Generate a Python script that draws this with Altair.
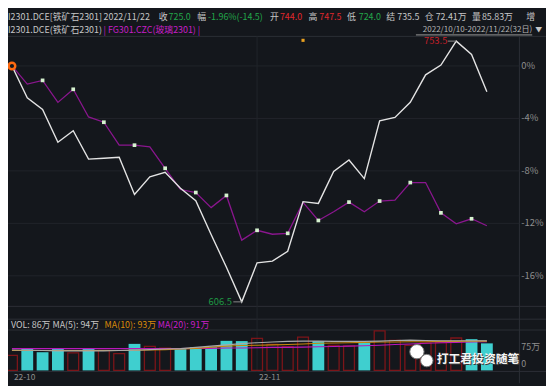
import altair as alt
import pandas as pd

# ---------------- data ----------------
dates = ["2022-10-10", "2022-10-11", "2022-10-12", "2022-10-13", "2022-10-14",
         "2022-10-17", "2022-10-18", "2022-10-19", "2022-10-20", "2022-10-21",
         "2022-10-24", "2022-10-25", "2022-10-26", "2022-10-27", "2022-10-28",
         "2022-10-31", "2022-11-01", "2022-11-02", "2022-11-03", "2022-11-04",
         "2022-11-07", "2022-11-08", "2022-11-09", "2022-11-10", "2022-11-11",
         "2022-11-14", "2022-11-15", "2022-11-16", "2022-11-17", "2022-11-18",
         "2022-11-21", "2022-11-22"]

# I2301 iron ore closes
iron_close = [739.5, 721.5, 715.0, 696.5, 703.0, 687.0, 687.5, 688.0, 667.0, 677.0,
              679.5, 670.5, 663.5, 644.5, 626.0, 606.5, 628.5, 629.5, 635.0, 663.0,
              662.0, 680.0, 686.5, 676.0, 708.5, 710.5, 719.0, 734.5, 740.0, 753.5,
              746.0, 725.0]

# FG301 glass, % change since 2022/10/10
glass_pct = [0.0, -1.38, -1.10, -2.78, -1.78, -3.89, -4.29, -6.04, -6.04, -6.17,
             -7.80, -9.42, -9.65, -10.80, -9.87, -13.28, -12.53, -12.83, -12.76, -10.40,
             -11.78, -11.11, -10.38, -11.11, -10.30, -10.23, -8.89, -8.89, -11.20, -12.03,
             -11.65, -12.18]

# volume (万手) and candle direction
volume_wan = [47.8, 69.1, 57.7, 69.1, 55.8, 69.1, 63.8, 53.1, 84.2, 76.3,
              70.9, 69.1, 73.6, 73.6, 93.8, 93.0, 101.8, 82.4, 75.2, 105.5,
              93.0, 79.7, 77.9, 88.5, 125.7, 94.9, 79.7, 86.9, 88.5, 102.8,
              99.1, 85.8]
bar_dir = ["up", "down", "down", "down", "up", "down", "up", "up", "down", "up",
           "up", "down", "down", "down", "down", "down", "up", "up", "up", "up",
           "down", "up", "up", "down", "up", "up", "up", "up", "up", "up",
           "down", "down"]

vol_ma5 = [65, 64, 63, 62, 62, 62, 62, 63, 64, 66, 68, 69, 73, 77, 81, 85,
           88, 90, 92, 93, 93, 92, 92, 92, 93, 95, 96, 95, 94, 94, 94, 94]
vol_ma10 = [63, 63, 63, 63, 63, 63, 63, 63, 64, 65, 66, 68, 70, 74, 77, 79,
            80, 81, 82, 84, 86, 87, 88, 89, 90, 90, 91, 91, 92, 92, 93, 93]
vol_ma20 = [69, 69, 69, 69, 69, 69, 69, 69, 69, 69, 69, 69, 70, 70, 71, 71,
            72, 73, 73, 74, 75, 76, 77, 78, 80, 82, 84, 86, 88, 89, 90, 91]

pct_ticks = [0, -4, -8, -12, -16]
pct_tick_labels = ["0%", "-4%", "-8%", "-12%", "-16%"]
vol_tick_vals = [75]
vol_tick_labels = ["75万"]
month_labels = ["22-10", "22-11"]
month_start_idx = [0, 16]
event_idx = [19]

title_main = "I2301.DCE[铁矿石2301]"
quote_date = "2022/11/22"
quote_labels = ["收", "幅", "开", "高", "低", "结", "仓", "量", "增"]
quote_values = ["725.0", "-1.96%(-14.5)", "744.0", "747.5", "724.0", "735.5", "72.41万", "85.83万"]
quote_tone = ["down", "down", "up", "up", "down", "flat", "flat", "flat"]
legend_iron = "I2301.DCE(铁矿石2301)"
legend_glass = "| FG301.CZC(玻璃2301) |"
range_text = "2022/10/10-2022/11/22(32日)"
vol_header = ["VOL: 86万 MA(5): 94万", "MA(10): 93万", "MA(20): 91万"]
watermark = "打工君投资随笔"

# ---------------- styling / layout ----------------
FONT = "Noto Sans CJK SC"
BG = "#14171c"
GRID = "#22252b"
FRAME = "#2c2f36"
AXLAB = "#8e8e8e"
HDR = "#c6c6c6"
GREEN_T = "#22a84a"
RED_T = "#e0282c"
MAG_T = "#c81ec8"
ORANGE_T = "#d98a0a"
WHITE_LINE = "#e4e4e4"
PURPLE = "#8a168e"
MARKER = "#d6f2cf"
CYAN = "#3fcfcf"
RED_STROKE = "#7c1519"

W, H = 546, 378
VOL_BASE = 365
xs = alt.Scale(domain=[0, 31], range=[-1, 491], nice=False, zero=False)
ys = alt.Scale(domain=[-16, 0], range=[269, 56], nice=False, zero=False)
vs = alt.Scale(domain=[0, 100], range=[VOL_BASE, VOL_BASE - 32], nice=False, zero=False)

df = pd.DataFrame({
    "idx": list(range(len(dates))),
    "date": dates,
    "close": iron_close,
    "glass": glass_pct,
    "vol": volume_wan,
    "dir": bar_dir,
    "ma5": vol_ma5,
    "ma10": vol_ma10,
    "ma20": vol_ma20,
})
df["iron"] = (df["close"] / df["close"].iloc[0] - 1) * 100

X = alt.X("idx:Q", scale=xs, axis=None)


def label(text, x, y, color, size=9, align="left", weight="normal"):
    return alt.Chart(pd.DataFrame({"t": [text]})).mark_text(
        align=align, baseline="middle", font=FONT, fontSize=size,
        color=color, fontWeight=weight
    ).encode(x=alt.value(x), y=alt.value(y), text="t:N")


def hline(y, x1=-8, x2=W, color=FRAME):
    return alt.Chart(pd.DataFrame({"a": [0]})).mark_rule(color=color, strokeWidth=1).encode(
        x=alt.value(x1), x2=alt.value(x2), y=alt.value(y))


def vline(x, y1, y2, color=FRAME):
    return alt.Chart(pd.DataFrame({"a": [0]})).mark_rule(color=color, strokeWidth=1).encode(
        x=alt.value(x), y=alt.value(y1), y2=alt.value(y2))


layers = []

# frame lines
for yy in [26, 300, 313, 324, VOL_BASE + 1]:
    layers.append(hline(yy))
layers.append(vline(519, 26, H))

# grid (main panel)
tick_df = pd.DataFrame({"v": pct_ticks, "lab": pct_tick_labels})
layers.append(alt.Chart(tick_df).mark_rule(color=GRID, strokeWidth=1).encode(
    y=alt.Y("v:Q", scale=ys, axis=None), x=alt.value(-8), x2=alt.value(519)))
layers.append(alt.Chart(tick_df).mark_text(
    align="left", baseline="middle", font=FONT, fontSize=9.5, color=AXLAB).encode(
    y=alt.Y("v:Q", scale=ys, axis=None), x=alt.value(521), text="lab:N"))

# month separators and labels
mdf = pd.DataFrame({"idx": month_start_idx, "lab": month_labels})
layers.append(alt.Chart(mdf[mdf["idx"] > 0]).mark_rule(color=GRID, strokeWidth=1).encode(
    x=X, y=alt.value(26), y2=alt.value(VOL_BASE + 1)))
layers.append(alt.Chart(mdf).mark_text(
    align="left", baseline="middle", dx=2, font=FONT, fontSize=8.5, color=AXLAB).encode(
    x=X, y=alt.value(371.5), text="lab:N"))

# volume tick labels
vdf = pd.DataFrame({"v": vol_tick_vals, "lab": vol_tick_labels})
layers.append(alt.Chart(vdf).mark_text(
    align="left", baseline="middle", font=FONT, fontSize=9, color=AXLAB).encode(
    y=alt.Y("v:Q", scale=vs, axis=None), x=alt.value(521), text="lab:N"))
layers.append(alt.Chart(pd.DataFrame({"v": [0], "lab": ["0"]})).mark_text(
    align="left", baseline="middle", dy=-6, font=FONT, fontSize=9, color=AXLAB).encode(
    y=alt.Y("v:Q", scale=vs, axis=None), x=alt.value(521), text="lab:N"))

# volume bars
base = alt.Chart(df)
layers.append(base.transform_filter("datum.dir == 'down'").mark_bar(
    size=12, color=CYAN).encode(
    x=X, y=alt.Y("vol:Q", scale=vs, axis=None), y2=alt.datum(0)))
layers.append(base.transform_filter("datum.dir == 'up'").mark_bar(
    size=11, fillOpacity=0, stroke=RED_STROKE, strokeWidth=1.3).encode(
    x=X, y=alt.Y("vol:Q", scale=vs, axis=None), y2=alt.datum(0)))

# volume moving averages
for col, colr in [("ma20", "#b818ba"), ("ma10", "#c8860a"), ("ma5", "#a9a9a9")]:
    layers.append(base.mark_line(color=colr, strokeWidth=1.1).encode(
        x=X, y=alt.Y(f"{col}:Q", scale=vs, axis=None)))

# price lines
layers.append(base.mark_line(color=PURPLE, strokeWidth=1.3).encode(
    x=X, y=alt.Y("glass:Q", scale=ys, axis=None)))
layers.append(base.mark_line(color=WHITE_LINE, strokeWidth=1.4).encode(
    x=X, y=alt.Y("iron:Q", scale=ys, axis=None)))
layers.append(base.transform_filter("datum.idx > 0 && datum.idx % 2 == 0").mark_square(
    size=14, color=MARKER, opacity=1).encode(
    x=X, y=alt.Y("glass:Q", scale=ys, axis=None)))
layers.append(base.transform_filter("datum.idx == 0").mark_point(
    filled=True, fill=BG, stroke="#ff6a10", strokeWidth=2.5, size=45, opacity=1).encode(
    x=X, y=alt.Y("iron:Q", scale=ys, axis=None)))

# event marker
layers.append(alt.Chart(pd.DataFrame({"idx": event_idx})).mark_square(
    size=10, color="#e8a020", opacity=1).encode(x=X, y=alt.value(30)))

# high / low annotations
hi_i = int(df["close"].idxmax())
lo_i = int(df["close"].idxmin())
ann = df.loc[[hi_i, lo_i], ["idx", "close", "iron"]].copy()
ann["lab"] = ann["close"].map(lambda v: f"{v:.1f}")
ann["x0"] = ann["idx"] - 0.55
layers.append(alt.Chart(ann).mark_rule(color="#8a8a8a", strokeWidth=1).encode(
    x=alt.X("x0:Q", scale=xs, axis=None), x2="idx:Q",
    y=alt.Y("iron:Q", scale=ys, axis=None)))
layers.append(alt.Chart(ann[ann["idx"] == hi_i]).mark_text(
    align="right", baseline="middle", dx=-9, font=FONT, fontSize=9.5, color="#c8202a").encode(
    x=X, y=alt.Y("iron:Q", scale=ys, axis=None), text="lab:N"))
layers.append(alt.Chart(ann[ann["idx"] == lo_i]).mark_text(
    align="right", baseline="middle", dx=-10, font=FONT, fontSize=9.5, color="#1f9a44").encode(
    x=X, y=alt.Y("iron:Q", scale=ys, axis=None), text="lab:N"))

# header line 1
Y1, Y2 = 6.5, 19.5
layers.append(label(title_main, 0, Y1, HDR))
layers.append(label(quote_date, 97, Y1, HDR))
lab_x = [153, 192, 266, 305, 344, 384, 423, 471, 526]
val_x = [163, 203, 276, 316, 356, 395, 434, 481]
tone_color = {"up": RED_T, "down": GREEN_T, "flat": HDR}
for s, xx in zip(quote_labels, lab_x):
    layers.append(label(s, xx, Y1, HDR))
for s, t, xx in zip(quote_values, quote_tone, val_x):
    layers.append(label(s, xx, Y1, tone_color[t]))

# header line 2
layers.append(label(legend_iron, 0, Y2, HDR))
layers.append(label(legend_glass, 97, Y2, MAG_T))
layers.append(label(range_text, 532, Y2, "#b4b4b4", size=8.2, align="right"))
layers.append(hline(24.5, 414, 532, color="#9a9a9a"))
layers.append(label("▼", 535, Y2, HDR, size=7))

# volume header
layers.append(label(vol_header[0], 3, 318.5, HDR))
layers.append(label(vol_header[1], 98, 318.5, ORANGE_T))
layers.append(label(vol_header[2], 152, 318.5, MAG_T))

# watermark
layers.append(alt.Chart(pd.DataFrame({"a": [0]})).mark_circle(
    size=210, color="white", opacity=1, stroke="#7a7a7a", strokeWidth=1).encode(
    x=alt.value(415), y=alt.value(346)))
layers.append(alt.Chart(pd.DataFrame({"a": [0]})).mark_circle(
    size=160, color="white", opacity=1, stroke="#7a7a7a", strokeWidth=1).encode(
    x=alt.value(425), y=alt.value(355)))
layers.append(label(watermark, 436, 354, "#3a3a3a", size=12, weight="bold"))
layers.append(label(watermark, 435, 353, "#f4f4f4", size=12, weight="bold"))

chart = alt.layer(*layers).properties(
    width=W, height=H, padding=0, background=BG,
    autosize=alt.AutoSizeParams(type="none"),
).resolve_scale(y="independent").configure_view(strokeWidth=0)

chart.save("out.html", embed_options={"renderer": "svg", "actions": False})
